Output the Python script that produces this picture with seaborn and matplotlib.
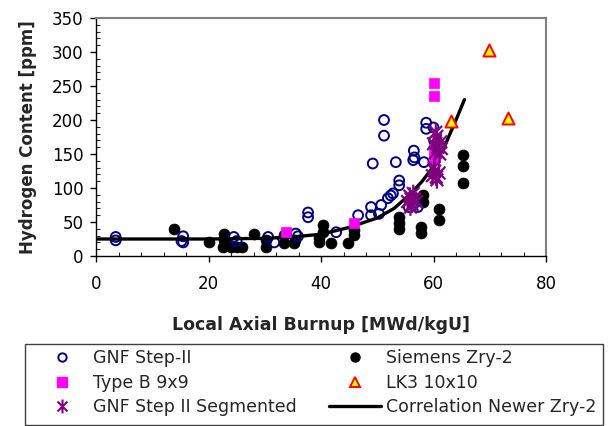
import numpy as np
import pandas as pd
import matplotlib
matplotlib.use("Agg")
import matplotlib.pyplot as plt
from matplotlib.path import Path
from matplotlib.lines import Line2D
from matplotlib.patches import Rectangle
from matplotlib.ticker import MultipleLocator
import seaborn as sns

# ---- data ----
gnf_x = [3.5, 3.5, 15.5, 15.2, 15.5, 24.5, 25.0, 30.6, 31.7, 35.5, 35.9, 37.7, 37.7, 42.7,
         46.6, 48.9, 48.9, 50.7, 50.3, 51.9, 52.4, 49.2, 51.2, 51.2, 53.3, 53.9, 53.9,
         52.8, 55.6, 56.4, 57.2, 58.7, 58.7, 60.0, 60.1, 56.5, 56.6, 56.4, 58.3]
gnf_y = [28, 23, 29, 22, 20, 28, 22, 28, 20, 33, 29, 64, 57, 35,
         60, 72, 60, 75, 62, 85, 89, 136, 200, 177, 138, 111, 104,
         92, 72, 75, 72, 196, 187, 189, 170, 155, 145, 141, 138]

siemens_x = [13.9, 20.0, 22.8, 22.8, 22.5, 24.0, 25.0, 26.0, 28.0, 30.2, 30.2, 33.4, 33.4,
             35.2, 35.3, 39.7, 39.7, 40.3, 40.3, 41.8, 44.8, 45.9, 45.9, 53.9, 53.9, 53.9,
             57.8, 57.8, 58.1, 58.1, 61.0, 61.0, 65.2, 65.2, 65.2]
siemens_y = [39, 20, 33, 24, 13, 13, 13, 13, 32, 24, 13, 31, 19,
             19, 23, 26, 20, 45, 35, 19, 19, 38, 31, 57, 48, 40,
             43, 34, 89, 79, 69, 53, 148, 133, 107]

typeb_x = [33.8, 45.8, 60.0, 60.0, 60.0, 60.0]
typeb_y = [35, 49, 254, 236, 158, 143]

lk3_x = [63.1, 69.9, 73.3]
lk3_y = [199, 303, 203]

seg_x = [55.4, 55.8, 56.2, 56.6, 57.0, 55.9, 56.4, 56.0, 59.8, 60.2, 60.6, 61.0, 60.1,
         60.5, 60.3, 60.8, 61.3, 60.6, 61.1, 60.4, 61.4, 60.0]
seg_y = [80, 88, 76, 84, 80, 72, 92, 84, 118, 125, 112, 122, 130,
         116, 152, 160, 168, 176, 150, 182, 158, 165]

corr_x = [0, 10, 20, 30, 35, 40, 45, 50, 53, 56, 58, 60, 62, 64, 65.5]
corr_y = [25, 25, 25, 26, 28, 32, 42, 56, 70, 92, 110, 132, 162, 200, 230]

labels = ["GNF Step-II", "Type B 9x9", "GNF Step II Segmented",
          "Siemens Zry-2", "LK3 10x10", "Correlation Newer Zry-2"]

# ---- style ----
sns.set_style("white")
plt.rcParams['font.family'] = ['DejaVu Sans']

fig = plt.figure(figsize=(6.11, 4.26), dpi=100)
ax = fig.add_axes([96/611, 1-256/426, 450/611, 238/426])

star = Path([(0, -1), (0, 1), (-0.72, -0.72), (0.72, 0.72), (-0.72, 0.72), (0.72, -0.72)],
            [Path.MOVETO, Path.LINETO, Path.MOVETO, Path.LINETO, Path.MOVETO, Path.LINETO])

df_s = pd.DataFrame({"x": siemens_x, "y": siemens_y})
df_g = pd.DataFrame({"x": gnf_x, "y": gnf_y})
df_b = pd.DataFrame({"x": typeb_x, "y": typeb_y})
df_l = pd.DataFrame({"x": lk3_x, "y": lk3_y})
df_seg = pd.DataFrame({"x": seg_x, "y": seg_y})
df_c = pd.DataFrame({"x": corr_x, "y": corr_y})

sns.scatterplot(data=df_s, x="x", y="y", ax=ax, marker="o", s=62, color="black",
                edgecolor="black", linewidth=0.5, zorder=3)
sns.scatterplot(data=df_g, x="x", y="y", ax=ax, marker="o", s=50, facecolor="none",
                edgecolor="#000080", linewidth=1.4, zorder=4)
sns.lineplot(data=df_c, x="x", y="y", ax=ax, color="black", linewidth=2.4, zorder=5)
sns.scatterplot(data=df_b, x="x", y="y", ax=ax, marker="s", s=60, color="#FF00FF",
                edgecolor="#FF00FF", linewidth=0.5, zorder=6)
sns.scatterplot(data=df_seg, x="x", y="y", ax=ax, marker=star, s=160, facecolor="none",
                edgecolor="#800080", color="#800080", linewidth=1.6, zorder=7)
sns.scatterplot(data=df_l, x="x", y="y", ax=ax, marker="^", s=75, color="#FFFF00",
                edgecolor="#FF0000", linewidth=1.4, zorder=8)

ax.set_xlim(0, 80)
ax.set_ylim(0, 350)
ax.xaxis.set_major_locator(MultipleLocator(20))
ax.xaxis.set_minor_locator(MultipleLocator(4))
ax.yaxis.set_major_locator(MultipleLocator(50))
ax.yaxis.set_minor_locator(MultipleLocator(10))
ax.tick_params(axis="both", which="major", direction="out", length=4, width=1,
               labelsize=12, colors="black")
ax.tick_params(axis="x", which="major", pad=10)
ax.tick_params(axis="y", which="major", pad=5)
ax.tick_params(axis="both", which="minor", direction="in", length=3, width=0.8)
ax.tick_params(bottom=True, left=True, which="both")

for side in ["left", "bottom"]:
    ax.spines[side].set_color("black")
    ax.spines[side].set_linewidth(1.0)
for side in ["top", "right"]:
    ax.spines[side].set_color("#808080")
    ax.spines[side].set_linewidth(1.5)

ax.set_xlabel("Local Axial Burnup [MWd/kgU]", fontsize=12.5, fontweight="bold", labelpad=16)
ax.set_ylabel("Hydrogen Content [ppm]", fontsize=12, fontweight="bold", labelpad=11)

handles = [
    Line2D([], [], linestyle="none", marker="o", markersize=6, markerfacecolor="none",
           markeredgecolor="#000080", markeredgewidth=1.4),
    Line2D([], [], linestyle="none", marker="s", markersize=7, markerfacecolor="#FF00FF",
           markeredgecolor="#FF00FF"),
    Line2D([], [], linestyle="none", marker=star, markersize=10, markerfacecolor="none",
           markeredgecolor="#800080", markeredgewidth=1.5),
    Line2D([], [], linestyle="none", marker="o", markersize=6.5, markerfacecolor="black",
           markeredgecolor="black"),
    Line2D([], [], linestyle="none", marker="^", markersize=7, markerfacecolor="#FFFF00",
           markeredgecolor="#FF0000", markeredgewidth=1.4),
    Line2D([], [], color="black", linewidth=2.4),
]

# legend frame drawn as a figure rectangle
fig.patches.append(Rectangle((25/611, 1-425/426), 578/611, 81/426, transform=fig.transFigure,
                             facecolor="white", edgecolor="#404040", linewidth=1.0, zorder=0))
leg = fig.legend(handles, labels, ncol=2, loc="upper left",
                 bbox_to_anchor=(36/611, 1-349/426), frameon=False,
                 fontsize=12.5, handlelength=3.0, handletextpad=0.29, labelspacing=0.38,
                 borderaxespad=0, borderpad=0, columnspacing=1.84)

fig.savefig("out.png", dpi=100)
